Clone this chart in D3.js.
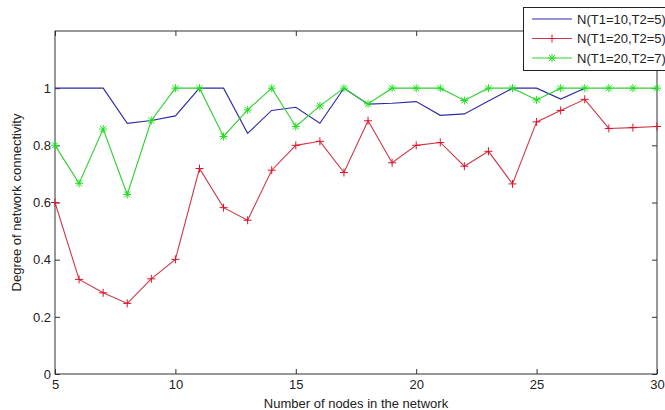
<!DOCTYPE html>
<html>
<head>
<meta charset="utf-8">
<script src="https://cdn.jsdelivr.net/npm/d3@7.9.0/dist/d3.min.js"></script>
<style>
  body { margin: 0; background: #fff; }
  svg { display: block; font-family: "Liberation Sans Narrow", "Arial Narrow", "Liberation Sans", sans-serif; }
</style>
</head>
<body>
<div id="chart"></div>
<script>
// Data
const nodes = d3.range(5, 31);
const seriesNames = ['N(T1=10,T2=5)', 'N(T1=20,T2=5)', 'N(T1=20,T2=7)'];
const blueValues = [1, 1, 1, 0.877, 0.887, 0.903, 1, 1, 0.842, 0.922, 0.933, 0.877, 1,
  0.944, 0.947, 0.953, 0.905, 0.91, 0.955, 1, 1, 0.962, 1];
const redValues = [0.6, 0.331, 0.284, 0.247, 0.333, 0.401, 0.719, 0.582, 0.538, 0.713, 0.8, 0.814, 0.705,
  0.886, 0.739, 0.8, 0.81, 0.727, 0.779, 0.665, 0.882, 0.922, 0.961, 0.859, 0.862, 0.866];
const greenValues = [0.8, 0.667, 0.857, 0.628, 0.887, 1, 1, 0.831, 0.924, 1, 0.866, 0.938, 1,
  0.945, 1, 1, 1, 0.957, 1, 1, 0.959, 1, 1, 1, 1, 1];
const xTicks = [5, 10, 15, 20, 25, 30];
const yTicks = [0, 0.2, 0.4, 0.6, 0.8, 1];

const width = 665;
const height = 410;
const margin = { top: 31, right: 8, bottom: 36, left: 55 };

const svg = d3.select('#chart').append('svg')
  .attr('width', width)
  .attr('height', height);

const xScale = d3.scaleLinear().domain([5, 30]).range([margin.left, width - margin.right]);
const yScale = d3.scaleLinear().domain([0, 1.2]).range([height - margin.bottom, margin.top]);

const series = [
  { name: seriesNames[0], values: blueValues, color: '#2b2ba6', line: '#2b2ba6', marker: null },
  { name: seriesNames[1], values: redValues, color: '#e0102a', line: '#cc3a48', marker: 'plus' },
  { name: seriesNames[2], values: greenValues, color: '#20e020', line: '#30d030', marker: 'star' },
];

// axes with inward ticks on all four sides
const fmt = (d) => (d === 0 || d === 1 ? String(d) : d.toFixed(1));
const axisColor = '#333';

function styleAxis(g) {
  g.select('.domain').remove();
  g.selectAll('line').attr('stroke', axisColor);
  g.selectAll('text').attr('fill', '#222').style('font-size', '13px');
}

svg.append('g')
  .attr('transform', `translate(0,${yScale(0)})`)
  .call(d3.axisBottom(xScale).tickValues(xTicks).tickSize(-5).tickPadding(6))
  .call(styleAxis);

svg.append('g')
  .attr('transform', `translate(0,${yScale(1.2)})`)
  .call(d3.axisTop(xScale).tickValues(xTicks).tickSize(-5).tickFormat(''))
  .call(styleAxis);

svg.append('g')
  .attr('transform', `translate(${xScale(5)},0)`)
  .call(d3.axisLeft(yScale).tickValues(yTicks).tickSize(-5).tickPadding(4).tickFormat(fmt))
  .call(styleAxis);

svg.append('g')
  .attr('transform', `translate(${xScale(30)},0)`)
  .call(d3.axisRight(yScale).tickValues(yTicks).tickSize(-5).tickFormat(''))
  .call(styleAxis);

svg.append('rect')
  .attr('x', xScale(5))
  .attr('y', yScale(1.2))
  .attr('width', xScale(30) - xScale(5))
  .attr('height', yScale(0) - yScale(1.2))
  .attr('fill', 'none')
  .attr('stroke', axisColor);

// axis titles
svg.append('text')
  .attr('x', (xScale(5) + xScale(30)) / 2)
  .attr('y', 408)
  .attr('text-anchor', 'middle')
  .style('font-size', '13px')
  .attr('fill', '#222')
  .text('Number of nodes in the network');

svg.append('text')
  .attr('transform', `translate(21,${(yScale(0) + yScale(1.2)) / 2}) rotate(-90)`)
  .attr('text-anchor', 'middle')
  .style('font-size', '13px')
  .attr('fill', '#222')
  .text('Degree of network connectivity');

// markers
function drawMarker(g, type, x, y, color) {
  const s = 4;
  if (type === 'plus' || type === 'star') {
    g.append('line').attr('x1', x - s).attr('x2', x + s).attr('y1', y).attr('y2', y).attr('stroke', color);
    g.append('line').attr('x1', x).attr('x2', x).attr('y1', y - s).attr('y2', y + s).attr('stroke', color);
  }
  if (type === 'star') {
    const d = s * 0.75;
    g.append('line').attr('x1', x - d).attr('x2', x + d).attr('y1', y - d).attr('y2', y + d).attr('stroke', color);
    g.append('line').attr('x1', x - d).attr('x2', x + d).attr('y1', y + d).attr('y2', y - d).attr('stroke', color);
  }
}

const line = d3.line()
  .x((d) => xScale(d[0]))
  .y((d) => yScale(d[1]));

series.forEach((s) => {
  const pts = s.values.map((v, i) => [nodes[i], v]);
  svg.append('path')
    .datum(pts)
    .attr('d', line)
    .attr('fill', 'none')
    .attr('stroke', s.line)
    .attr('stroke-width', 1.1);
  if (s.marker) {
    const mg = svg.append('g');
    pts.forEach((p) => drawMarker(mg, s.marker, xScale(p[0]), yScale(p[1]), s.color));
  }
});

// legend box (runs past the right edge as in the original)
const legend = svg.append('g');
legend.append('rect')
  .attr('x', 523.5)
  .attr('y', 7.5)
  .attr('width', 160)
  .attr('height', 63)
  .attr('fill', '#fff')
  .attr('stroke', '#222');

series.forEach((s, i) => {
  const y = 19 + i * 19.5;
  legend.append('line')
    .attr('x1', 532).attr('x2', 572)
    .attr('y1', y).attr('y2', y)
    .attr('stroke', s.line)
    .attr('stroke-width', 1.1);
  if (s.marker) drawMarker(legend, s.marker, 552, y, s.color);
  legend.append('text')
    .attr('x', 577)
    .attr('y', y + 4.5)
    .style('font-size', '13px')
    .attr('fill', '#222')
    .text(s.name);
});
</script>
</body>
</html>
